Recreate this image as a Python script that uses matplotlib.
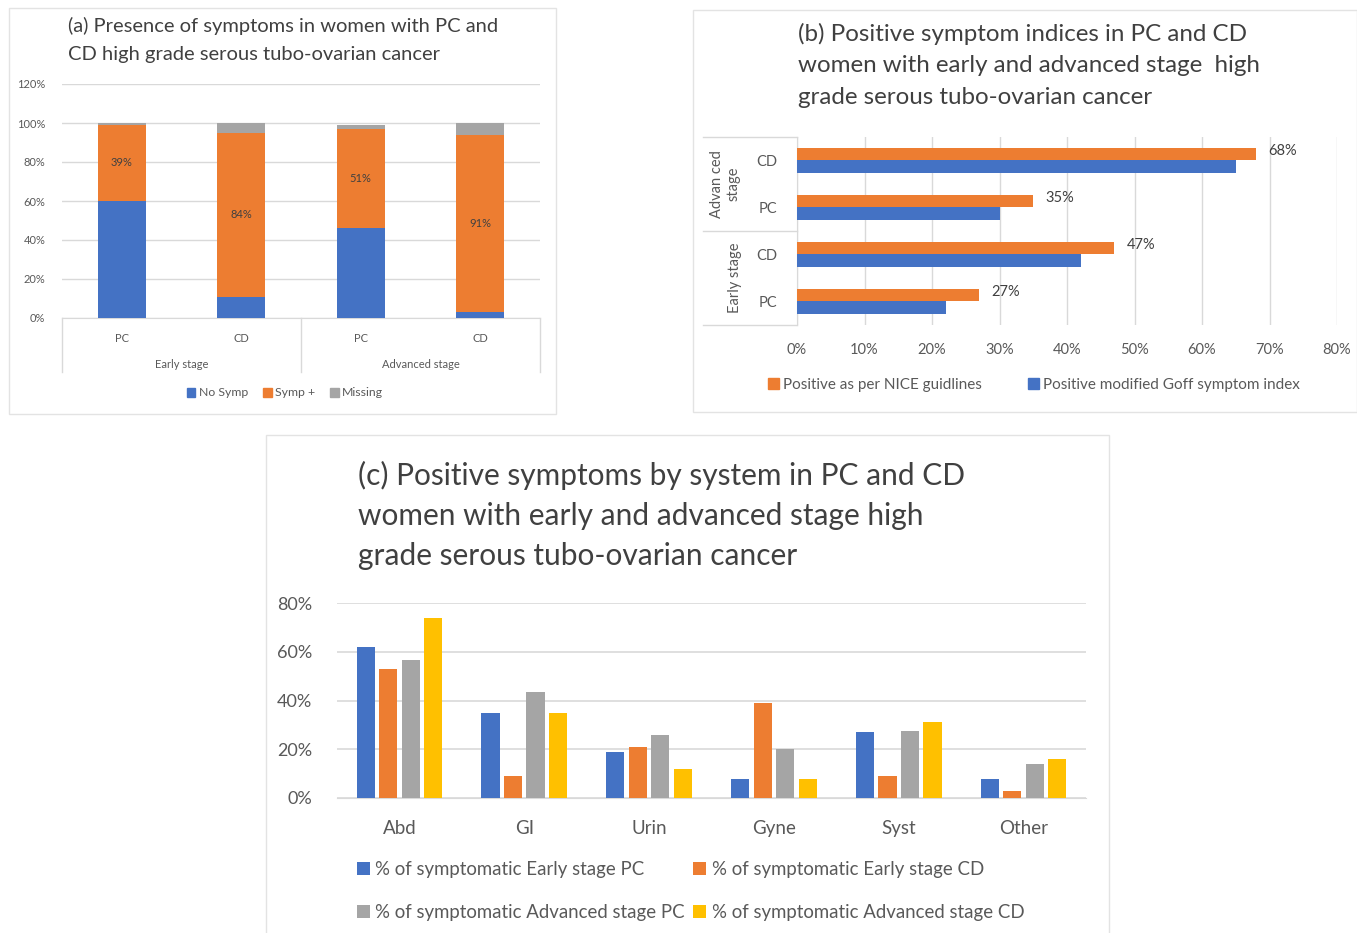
import numpy as np
import matplotlib
matplotlib.use("Agg")
import matplotlib.pyplot as plt
from matplotlib.patches import Rectangle, Patch
from matplotlib.transforms import blended_transform_factory

plt.rcParams['font.family'] = ['Lato', 'DejaVu Sans']

# ---- data: panel (a) ----
a_sub = ['PC', 'CD', 'PC', 'CD']
a_groups = ['Early stage', 'Advanced stage']
a_no_symp = [60, 11, 46, 3]
a_symp = [39, 84, 51, 91]
a_missing = [1, 5, 2, 6]

# ---- data: panel (b) (bottom to top) ----
b_sub = ['PC', 'CD', 'PC', 'CD']
b_nice = [27, 47, 35, 68]
b_goff = [22, 42, 30, 65]

# ---- data: panel (c) ----
c_cats = ['Abd', 'GI', 'Urin', 'Gyne', 'Syst', 'Other']
c_early_pc = [62, 35, 19, 8, 27, 8]
c_early_cd = [53, 9, 21, 39, 9, 3]
c_adv_pc = [56.5, 43.5, 26, 20, 27.5, 14]
c_adv_cd = [74, 35, 12, 8, 31, 16]

BLUE, ORANGE, GRAY, YELLOW = '#4472C4', '#ED7D31', '#A5A5A5', '#FFC000'
GRID = '#D9D9D9'
TXT = '#404040'
TICK = '#595959'

W, H = 1357, 933
fig = plt.figure(figsize=(W / 100, H / 100), dpi=100)


def box(x0, y0, x1, y1):
    return [x0 / W, 1 - y1 / H, (x1 - x0) / W, (y1 - y0) / H]


def frame(x0, y0, x1, y1):
    fig.patches.append(Rectangle((x0 / W, 1 - y1 / H), (x1 - x0) / W, (y1 - y0) / H,
                                 transform=fig.transFigure, fill=False,
                                 edgecolor='#E3E3E3', lw=1))


def clean(ax):
    for s in ax.spines.values():
        s.set_visible(False)
    ax.tick_params(length=0, colors=TICK)


# ================= panel (a) =================
frame(9, 8, 556, 414)
ax = fig.add_axes(box(62, 84, 540, 318))
clean(ax)
x = np.arange(len(a_sub))
bw = 0.4
bot = np.zeros(len(x))
for vals, col in [(a_no_symp, BLUE), (a_symp, ORANGE), (a_missing, GRAY)]:
    ax.bar(x, vals, bw, bottom=bot, color=col, zorder=3)
    bot = bot + np.array(vals)
for i, v in enumerate(a_symp):
    ax.text(x[i], a_no_symp[i] + v / 2, f'{v}%', ha='center', va='center',
            fontsize=8, color=TXT, zorder=4)
ax.set_xlim(-0.5, 3.5)
ax.set_ylim(0, 120)
ax.set_yticks(range(0, 121, 20))
ax.set_yticklabels([f'{v}%' for v in range(0, 121, 20)], fontsize=8)
ax.yaxis.grid(True, color=GRID, lw=1, zorder=0)
ax.set_xticks(x)
ax.set_xticklabels(a_sub, fontsize=8)
ax.tick_params(axis='x', pad=11)
ax.tick_params(axis='y', pad=12)
ax.spines['bottom'].set_visible(True)
ax.spines['bottom'].set_color(GRID)
tr = blended_transform_factory(ax.transData, ax.transAxes)
for sx in [-0.5, 1.5, 3.5]:
    ax.plot([sx, sx], [0, -0.23], color=GRID, lw=1, transform=tr, clip_on=False)
for gi, g in enumerate(a_groups):
    ax.text(gi * 2 + 0.5, -0.197, g, ha='center', va='center', fontsize=8,
            color=TICK, transform=tr)
fig.text(68 / W, 1 - 40 / H,
         '(a) Presence of symptoms in women with PC and\nCD high grade serous tubo-ovarian cancer',
         ha='left', va='center', fontsize=14.5, color=TXT, linespacing=1.72)
fig.legend(handles=[Patch(color=BLUE, label='No Symp'), Patch(color=ORANGE, label='Symp +'),
                    Patch(color=GRAY, label='Missing')],
           loc='center', bbox_to_anchor=(285 / W, 1 - 393 / H), ncol=3, frameon=False,
           fontsize=8.8, handlelength=0.7, handleheight=0.7, handletextpad=0.3,
           columnspacing=1.2, labelcolor=TICK)

# ================= panel (b) =================
frame(693, 10, 1357, 412)
ax = fig.add_axes(box(797, 137, 1337, 325))
clean(ax)
y = np.arange(len(b_sub))
bh = 0.27
ax.barh(y + 0.135, b_nice, bh, color=ORANGE, zorder=3)
ax.barh(y - 0.135, b_goff, bh, color=BLUE, zorder=3)
for i, v in enumerate(b_nice):
    ax.text(v + 1.8, y[i] + 0.2, f'{v}%', ha='left', va='center', fontsize=10.5, color=TXT)
ax.set_xlim(0, 80)
ax.set_ylim(-0.5, 3.5)
ax.set_xticks(range(0, 81, 10))
ax.set_xticklabels([f'{v}%' for v in range(0, 81, 10)], fontsize=10.5)
ax.tick_params(axis='x', pad=13)
ax.xaxis.grid(True, color=GRID, lw=1, zorder=0)
ax.set_yticks(y)
ax.set_yticklabels(b_sub, fontsize=10.5)
ax.tick_params(axis='y', pad=14)
ax.spines['left'].set_visible(True)
ax.spines['left'].set_color(GRID)
for sy in [0, 0.5, 1]:
    ax.plot([-0.174, 0], [sy, sy], color=GRID, lw=1, transform=ax.transAxes, clip_on=False)
ax.text(-0.133, 0.75, 'Advan ced\nstage', rotation=90, ha='center', va='center',
        fontsize=10.5, color=TICK, transform=ax.transAxes, linespacing=1.3)
ax.text(-0.115, 0.25, 'Early stage', rotation=90, ha='center', va='center',
        fontsize=10.5, color=TICK, transform=ax.transAxes)
fig.text(798 / W, 1 - 65 / H,
         '(b) Positive symptom indices in PC and CD\nwomen with early and advanced stage  high\ngrade serous tubo-ovarian cancer',
         ha='left', va='center', fontsize=17.4, color=TXT, linespacing=1.62)
fig.legend(handles=[Patch(color=ORANGE, label='Positive as per NICE guidlines'),
                    Patch(color=BLUE, label='Positive modified Goff symptom index')],
           loc='center', bbox_to_anchor=(1034 / W, 1 - 385 / H), ncol=2, frameon=False,
           fontsize=11, handlelength=0.7, handleheight=0.7, handletextpad=0.3,
           columnspacing=3.0, labelcolor=TICK)

# ================= panel (c) =================
frame(266, 435, 1109, 940)
ax = fig.add_axes(box(337, 603, 1086, 798))
clean(ax)
xc = np.arange(len(c_cats))
series = [(c_early_pc, BLUE, '% of symptomatic Early stage PC'),
          (c_early_cd, ORANGE, '% of symptomatic Early stage CD'),
          (c_adv_pc, GRAY, '% of symptomatic Advanced stage PC'),
          (c_adv_cd, YELLOW, '% of symptomatic Advanced stage CD')]
handles = []
for k, (vals, col, lab) in enumerate(series):
    b = ax.bar(xc + (k - 1.5) * 0.18, vals, 0.145, color=col, label=lab, zorder=3)
    handles.append(b)
ax.set_xlim(-0.5, 5.5)
ax.set_ylim(0, 80)
ax.set_yticks(range(0, 81, 20))
ax.set_yticklabels([f'{v}%' for v in range(0, 81, 20)], fontsize=13)
ax.yaxis.grid(True, color=GRID, lw=1.2, zorder=0)
ax.set_xticks(xc)
ax.set_xticklabels(c_cats, fontsize=13.5)
ax.tick_params(axis='x', pad=16)
ax.tick_params(axis='y', pad=18)
ax.spines['bottom'].set_visible(True)
ax.spines['bottom'].set_color(GRID)
fig.text(358 / W, 1 - 515 / H,
         '(c) Positive symptoms by system in PC and CD\nwomen with early and advanced stage high\ngrade serous tubo-ovarian cancer',
         ha='left', va='center', fontsize=21.5, color=TXT, linespacing=1.52)
# row-wise order in a 2-column legend: fill column by column
leg_order = [handles[0], handles[2], handles[1], handles[3]]
fig.legend(handles=leg_order, loc='center left', bbox_to_anchor=(340 / W, 1 - 891 / H),
           ncol=2, frameon=False, fontsize=13.4, handlelength=0.7, handleheight=0.7,
           handletextpad=0.3, columnspacing=0.45, labelspacing=1.35, labelcolor=TICK)

fig.savefig('out.png', dpi=100)
